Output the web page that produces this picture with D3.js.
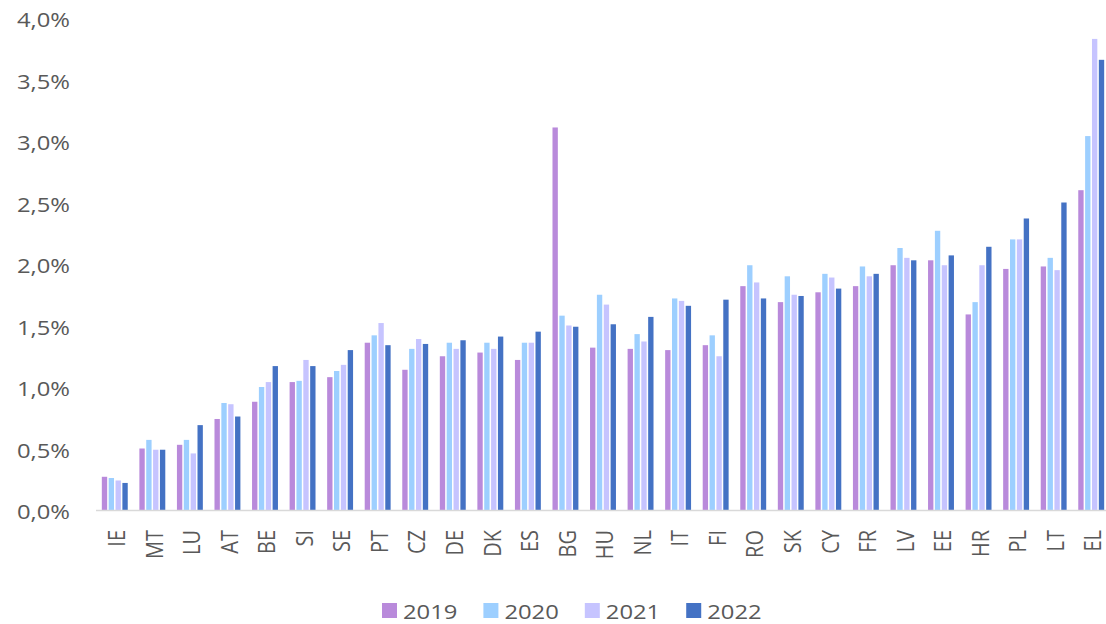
<!DOCTYPE html>
<html>
<head>
<meta charset="utf-8">
<script src="https://cdn.jsdelivr.net/npm/d3@7"></script>
<style>
  html, body { margin: 0; padding: 0; background: #ffffff; }
  svg { display: block; }
  text { font-family: "Open Sans", "Liberation Sans", sans-serif; fill: #595959; }
</style>
</head>
<body>
<svg id="chart" width="1106" height="624"></svg>
<script>
// Countries, sorted by the 2022 value
const countries = ["IE","MT","LU","AT","BE","SI","SE","PT","CZ","DE","DK","ES","BG","HU","NL","IT","FI","RO","SK","CY","FR","LV","EE","HR","PL","LT","EL"];

// Shares in percent, one array per year
const v2019 = [0.27,0.50,0.53,0.74,0.88,1.04,1.08,1.36,1.14,1.25,1.28,1.22,3.11,1.32,1.31,1.30,1.34,1.82,1.69,1.77,1.82,1.99,2.03,1.59,1.96,1.98,2.60];
const v2020 = [0.26,0.57,0.57,0.87,1.00,1.05,1.13,1.42,1.31,1.36,1.36,1.36,1.58,1.75,1.43,1.72,1.42,1.99,1.90,1.92,1.98,2.13,2.27,1.69,2.20,2.05,3.04];
const v2021 = [0.24,0.49,0.46,0.86,1.04,1.22,1.18,1.52,1.39,1.31,1.31,1.36,1.50,1.67,1.37,1.70,1.25,1.85,1.75,1.89,1.90,2.05,1.99,1.99,2.20,1.95,3.83];
const v2022 = [0.22,0.49,0.69,0.76,1.17,1.17,1.30,1.34,1.35,1.38,1.41,1.45,1.49,1.51,1.57,1.66,1.71,1.72,1.74,1.80,1.92,2.03,2.07,2.14,2.37,2.50,3.66];

const years = ["2019","2020","2021","2022"];
const yTicks = [0, 0.5, 1, 1.5, 2, 2.5, 3, 3.5, 4];

const seriesValues = [v2019, v2020, v2021, v2022];
const colors = ["#B98ADB", "#9DCFFF", "#C6C4FF", "#4472C4"];
const stretch = 1.19; // wide lettering

const svg = d3.select("#chart");

const x0 = d3.scaleBand().domain(countries).range([96, 1110]).paddingInner(0).paddingOuter(0);
const bw = x0.bandwidth();
const x1 = d3.scaleBand().domain(years).range([bw * 0.155, bw * 0.845]).paddingInner(0.22).paddingOuter(0);
const y = d3.scaleLinear().domain([0, 4]).range([510, 18]);
const color = d3.scaleOrdinal().domain(years).range(colors);

// Bars
const groups = svg.append("g").selectAll("g")
  .data(countries)
  .join("g")
  .attr("transform", d => `translate(${x0(d)},0)`);

groups.selectAll("rect")
  .data((c, i) => years.map((yr, k) => ({ yr, v: seriesValues[k][i] })))
  .join("rect")
  .attr("x", d => x1(d.yr))
  .attr("width", x1.bandwidth())
  .attr("y", d => y(d.v))
  .attr("height", d => y(0) - y(d.v))
  .attr("fill", d => color(d.yr));

// Y axis (labels only)
const fmt = v => d3.format(".1f")(v).replace(".", ",") + "%";
const yAxis = svg.append("g")
  .attr("transform", "translate(70,0)")
  .call(d3.axisLeft(y).tickValues(yTicks).tickFormat(fmt).tickSize(0).tickPadding(0));
yAxis.select(".domain").remove();
yAxis.selectAll("text")
  .attr("font-size", 20)
  .attr("font-family", null)
  .attr("fill", "#595959")
  .attr("dy", "0.45em")
  .attr("transform", `scale(${stretch},1)`)
  .attr("x", 0);
// keep right edge at the axis position after horizontal scaling
yAxis.attr("transform", `translate(70,0)`)
  .selectAll(".tick")
  .each(function () {
    const t = d3.select(this);
    const ty = y(+t.datum());
    t.attr("transform", `translate(0,${ty})`);
  });

// X axis
const xAxis = svg.append("g")
  .attr("transform", `translate(0,${y(0)})`)
  .call(d3.axisBottom(x0).tickSize(0).tickPadding(0));
xAxis.select(".domain")
  .attr("d", `M96,0.5H1106`)
  .attr("stroke", "#D9D9D9")
  .attr("stroke-width", 1.5);
xAxis.selectAll(".tick text")
  .attr("font-size", 20)
  .attr("font-family", null)
  .attr("fill", "#595959")
  .attr("text-anchor", "end")
  .attr("dominant-baseline", "central")
  .attr("y", null)
  .attr("dy", null)
  .attr("transform", `translate(1,20) scale(${stretch},1) rotate(-90)`);

// Legend
const legend = svg.append("g").attr("transform", "translate(382,603)");
let lx = 0;
years.forEach(yr => {
  const item = legend.append("g").attr("transform", `translate(${lx},0)`);
  item.append("rect").attr("width", 15).attr("height", 15).attr("fill", color(yr));
  const t = item.append("text")
    .attr("font-size", 20)
    .attr("dominant-baseline", "central")
    .attr("transform", `translate(21,8) scale(${stretch},1)`)
    .text(yr);
  const w = t.node().getComputedTextLength() * stretch;
  lx += 21 + w + 26;
});
</script>
</body>
</html>
